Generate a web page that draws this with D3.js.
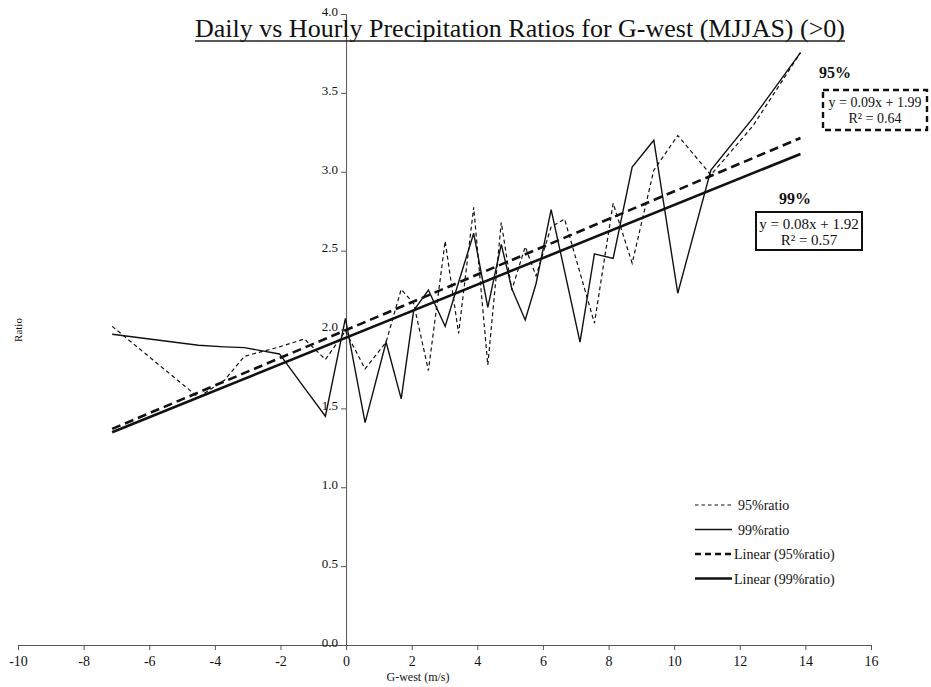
<!DOCTYPE html>
<html>
<head>
<meta charset="utf-8">
<script src="https://cdn.jsdelivr.net/npm/d3@7"></script>
<style>
body { margin: 0; background: #fff; }
svg text { font-family: "Liberation Serif", "Times New Roman", Times, "DejaVu Serif", serif; fill: #111; }
</style>
</head>
<body>
<script>
// G-west bins (m/s) and the two ratio series
var gwest   = [-7.13, -4.5, -3.7, -3.1, -2.03, -1.27, -0.63, -0.02, 0.58, 1.22, 1.68, 2.06, 2.51, 3.02, 3.43, 3.89,
               4.32, 4.73, 5.05, 5.46, 5.79, 6.25, 6.66, 7.13, 7.57, 8.14, 8.72, 9.38, 10.11, 11.12, 12.4, 13.85];
var ratio95 = [2.02, 1.57, 1.68, 1.83, 1.89, 1.94, 1.81, 1.99, 1.75, 1.92, 2.255, 2.165, 1.74, 2.56, 1.975, 2.775,
               1.775, 2.68, 2.25, 2.525, 2.34, 2.65, 2.70, 2.36, 2.04, 2.80, 2.42, 3.01, 3.23, 2.98, 3.29, 3.755];
var ratio99 = [1.97, 1.90, 1.89, 1.885, 1.845, 1.63, 1.45, 2.07, 1.41, 1.92, 1.56, 2.12, 2.25, 2.02, 2.30, 2.61,
               2.14, 2.54, 2.26, 2.06, 2.29, 2.76, 2.37, 1.92, 2.48, 2.45, 3.03, 3.20, 2.23, 3.01, 3.34, 3.755];

var xTicks = [-10, -8, -6, -4, -2, 0, 2, 4, 6, 8, 10, 12, 14, 16];
var yTicks = [0, 0.5, 1, 1.5, 2, 2.5, 3, 3.5, 4];
var fitLabels95 = ["y = 0.09x + 1.99", "R\u00b2 = 0.64"];
var fitLabels99 = ["y = 0.08x + 1.92", "R\u00b2 = 0.57"];
var legendNames = ["95%ratio", "99%ratio", "Linear (95%ratio)", "Linear (99%ratio)"];

var W = 931, H = 687;
var serif = "'Liberation Serif', 'Times New Roman', Times, 'DejaVu Serif', serif";
var x = d3.scaleLinear().domain([-10, 16]).range([18, 871]);
var y = d3.scaleLinear().domain([0, 4]).range([645, 14]);

var svg = d3.select("body").append("svg")
            .attr("width", W)
            .attr("height", H);

// least squares fit, like the spreadsheet trendline
function fit(xs, ys) {
  var mx = d3.mean(xs), my = d3.mean(ys);
  var sxy = d3.sum(xs, function(v, i) { return (v - mx) * (ys[i] - my); });
  var sxx = d3.sum(xs, function(v) { return (v - mx) * (v - mx); });
  var b = sxy / sxx;
  return { slope: b, intercept: my - b * mx };
}

// axes (plain hyphen minus like the original)
var xAxis = svg.append("g")
               .attr("transform", "translate(0," + y(0) + ")")
               .call(d3.axisBottom(x).tickValues(xTicks).tickSize(5).tickPadding(6)
                       .tickFormat(function(d) { return String(d); }));
var yAxis = svg.append("g")
               .attr("transform", "translate(" + x(0) + ",0)")
               .call(d3.axisLeft(y).tickValues(yTicks).tickSize(5).tickPadding(3)
                       .tickFormat(function(d) { return d.toFixed(1); }));

[xAxis, yAxis].forEach(function(a) {
  a.select(".domain").attr("stroke", "#555").attr("stroke-width", 1);
  a.selectAll(".tick line").attr("stroke", "#555");
  a.selectAll(".tick text")
   .style("font-family", serif)
   .style("font-size", "14px")
   .attr("fill", "#111");
});
yAxis.selectAll(".tick text").attr("dy", "0.1em").style("font-size", "13px");

// series
var line = d3.line()
             .x(function(d) { return x(d[0]); })
             .y(function(d) { return y(d[1]); });

var s95 = gwest.map(function(v, i) { return [v, ratio95[i]]; });
var s99 = gwest.map(function(v, i) { return [v, ratio99[i]]; });

var f95 = fit(gwest, ratio95);
var f99 = fit(gwest, ratio99);
var xr = d3.extent(gwest);
var t95 = xr.map(function(v) { return [v, f95.intercept + f95.slope * v]; });
var t99 = xr.map(function(v) { return [v, f99.intercept + f99.slope * v]; });

var styles = [
  { width: 1.2, dash: "4,3" },
  { width: 1.4, dash: null },
  { width: 2.6, dash: "9,5" },
  { width: 2.6, dash: null }
];
var series = [s95, s99, t95, t99];

series.forEach(function(s, i) {
  svg.append("path")
     .attr("d", line(s))
     .attr("fill", "none")
     .attr("stroke", "#111")
     .attr("stroke-width", styles[i].width)
     .attr("stroke-dasharray", styles[i].dash)
     .attr("stroke-linejoin", "miter");
});

// title
svg.append("text")
   .attr("x", 520)
   .attr("y", 37)
   .attr("text-anchor", "middle")
   .attr("textLength", 650)
   .attr("lengthAdjust", "spacingAndGlyphs")
   .style("font-family", serif)
   .style("font-size", "26px")
   .text("Daily vs Hourly Precipitation Ratios for G-west (MJJAS) (>0)");
svg.append("line")
   .attr("x1", 195).attr("x2", 845)
   .attr("y1", 41).attr("y2", 41)
   .attr("stroke", "#222")
   .attr("stroke-width", 1.5);

// axis titles
svg.append("text")
   .attr("x", 418).attr("y", 681)
   .attr("text-anchor", "middle")
   .style("font-family", serif)
   .style("font-size", "12px")
   .text("G-west (m/s)");
svg.append("text")
   .attr("transform", "translate(22,330) rotate(-90)")
   .attr("text-anchor", "middle")
   .style("font-family", serif)
   .style("font-size", "11px")
   .text("Ratio");

// trendline labels
svg.append("text")
   .attr("x", 835).attr("y", 78)
   .attr("text-anchor", "middle")
   .style("font-family", serif)
   .style("font-size", "16px")
   .style("font-weight", "bold")
   .text("95%");
svg.append("rect")
   .attr("x", 823).attr("y", 90)
   .attr("width", 104).attr("height", 40)
   .attr("fill", "none")
   .attr("stroke", "#111")
   .attr("stroke-width", 2.4)
   .attr("stroke-dasharray", "6,4");
fitLabels95.forEach(function(t, i) {
  svg.append("text")
     .attr("x", 875).attr("y", 107 + i * 16)
     .attr("text-anchor", "middle")
     .style("font-family", serif)
     .style("font-size", "14px")
     .text(t);
});

svg.append("text")
   .attr("x", 795).attr("y", 204)
   .attr("text-anchor", "middle")
   .style("font-family", serif)
   .style("font-size", "16px")
   .style("font-weight", "bold")
   .text("99%");
svg.append("rect")
   .attr("x", 756).attr("y", 212)
   .attr("width", 106).attr("height", 38)
   .attr("fill", "none")
   .attr("stroke", "#111")
   .attr("stroke-width", 2);
fitLabels99.forEach(function(t, i) {
  svg.append("text")
     .attr("x", 809).attr("y", 229 + i * 16)
     .attr("text-anchor", "middle")
     .style("font-family", serif)
     .style("font-size", "15px")
     .text(t);
});

// legend
legendNames.forEach(function(name, i) {
  var ly = 505 + i * 24.5;
  svg.append("line")
     .attr("x1", 695).attr("x2", 732)
     .attr("y1", ly).attr("y2", ly)
     .attr("stroke", "#111")
     .attr("stroke-width", styles[i].width)
     .attr("stroke-dasharray", i == 0 ? "3.5,3" : (i == 2 ? "6,4" : null));
  svg.append("text")
     .attr("x", i < 2 ? 738 : 734).attr("y", ly + 5)
     .style("font-family", serif)
     .style("font-size", "14px")
     .text(name);
});
</script>
</body>
</html>
